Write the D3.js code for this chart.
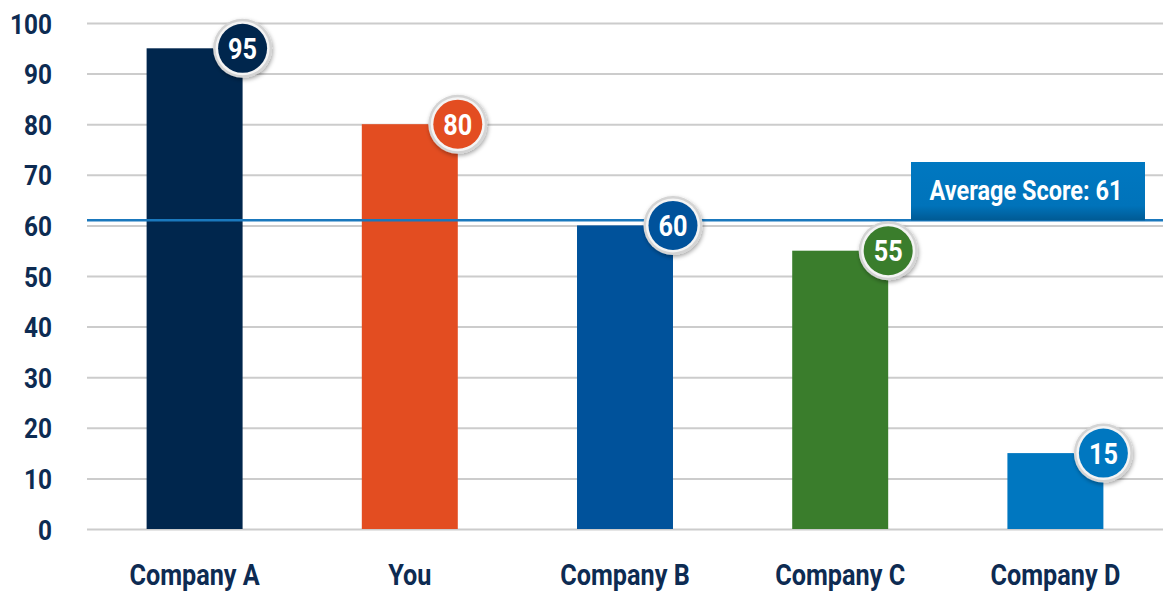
<!DOCTYPE html>
<html>
<head>
<meta charset="utf-8">
<script src="https://cdn.jsdelivr.net/npm/d3@7"></script>
<style>
  body { margin: 0; background: #fff; }
  text { font-family: Roboto, "DejaVu Sans Condensed", sans-serif; font-weight: bold; }
</style>
</head>
<body>
<svg id="canvas" width="1163" height="593"></svg>
<script>
let companies = ["Company A", "You", "Company B", "Company C", "Company D"];
let scores = [95, 80, 60, 55, 15];
let barColors = ["#00264d", "#e34d21", "#00529b", "#3a7d2c", "#0077c0"];
let yTicks = [0, 10, 20, 30, 40, 50, 60, 70, 80, 90, 100];
let averageScore = 61;

let canvas = d3.select("#canvas");
let plotLeft = 87, plotRight = 1163, plotTop = 23, plotBottom = 529;
let narrow = 0.87; // fake a condensed face

let xScale = d3.scaleBand()
    .domain(companies)
    .range([plotLeft, plotRight])
    .paddingInner(0.554)
    .paddingOuter(0.277);

let yScale = d3.scaleLinear()
    .domain([0, 100])
    .range([plotBottom, plotTop]);

// squeeze text horizontally, keeping its anchor point
let condense = (sel) => {
    sel.each(function () {
        let t = d3.select(this);
        let x = +t.attr("x") || 0;
        t.attr("x", x / narrow).attr("transform", "scale(" + narrow + ",1)");
    });
};

// gridlines + y labels
let yAxis = d3.axisLeft(yScale)
    .tickValues(yTicks)
    .tickSize(-(plotRight - plotLeft))
    .tickPadding(35);

let gy = canvas.append("g")
    .attr("transform", "translate(" + plotLeft + ",0)")
    .call(yAxis);
gy.select(".domain").remove();
gy.selectAll("line").attr("stroke", "#cccccc").attr("stroke-width", 2);
gy.selectAll("text")
    .attr("fill", "#0d2b52")
    .style("font-size", "28px")
    .attr("dy", "0.36em")
    .call(condense);

// x labels
let xAxis = d3.axisBottom(xScale).tickSize(0).tickPadding(35);
let gx = canvas.append("g")
    .attr("transform", "translate(0," + plotBottom + ")")
    .call(xAxis);
gx.select(".domain").remove();
gx.selectAll("text")
    .attr("fill", "#0d2b52")
    .style("font-size", "29px")
    .call(condense);

// bars
let data = companies.map((c, i) => ({ name: c, score: scores[i], color: barColors[i] }));

canvas.selectAll("rect.bar")
    .data(data)
    .enter()
    .append("rect")
    .attr("class", "bar")
    .attr("x", d => xScale(d.name))
    .attr("y", d => yScale(d.score))
    .attr("width", xScale.bandwidth())
    .attr("height", d => plotBottom - yScale(d.score))
    .attr("fill", d => d.color);

// average line and label
let defs = canvas.append("defs");
let grad = defs.append("linearGradient").attr("id", "avgGrad")
    .attr("x1", 0).attr("y1", 0).attr("x2", 0).attr("y2", 1);
grad.append("stop").attr("offset", "0%").attr("stop-color", "#0078c1");
grad.append("stop").attr("offset", "75%").attr("stop-color", "#0073ba");
grad.append("stop").attr("offset", "100%").attr("stop-color", "#005a94");

let shadow = defs.append("filter").attr("id", "shadow")
    .attr("x", "-30%").attr("y", "-30%").attr("width", "160%").attr("height", "160%");
shadow.append("feDropShadow")
    .attr("dx", 1).attr("dy", 2).attr("stdDeviation", 2)
    .attr("flood-color", "#000").attr("flood-opacity", 0.35);

let avgY = yScale(averageScore);
canvas.append("line")
    .attr("x1", plotLeft).attr("x2", plotRight)
    .attr("y1", avgY).attr("y2", avgY)
    .attr("stroke", "#1a78bd").attr("stroke-width", 2.5);

canvas.append("rect")
    .attr("x", 911).attr("y", 162)
    .attr("width", 234).attr("height", avgY - 162)
    .attr("fill", "url(#avgGrad)");

canvas.append("text")
    .attr("x", 1026).attr("y", 190)
    .attr("text-anchor", "middle")
    .attr("dy", "0.36em")
    .attr("fill", "#fff")
    .style("font-size", "27px")
    .text("Average Score: " + averageScore)
    .call(condense);

// badges
let badges = canvas.selectAll("g.badge")
    .data(data)
    .enter()
    .append("g")
    .attr("class", "badge")
    .attr("transform", d => "translate(" + (xScale(d.name) + xScale.bandwidth()) + "," + yScale(d.score) + ")");

badges.append("circle")
    .attr("r", 29.5)
    .attr("fill", "#d4d4d4")
    .attr("filter", "url(#shadow)");
badges.append("circle")
    .attr("r", 27)
    .attr("fill", "#f4f4f4");
badges.append("circle")
    .attr("r", 24.5)
    .attr("fill", d => d.color);
badges.append("text")
    .attr("text-anchor", "middle")
    .attr("dy", "0.36em")
    .attr("fill", "#fff")
    .style("font-size", "29px")
    .text(d => d.score)
    .call(condense);
</script>
</body>
</html>
